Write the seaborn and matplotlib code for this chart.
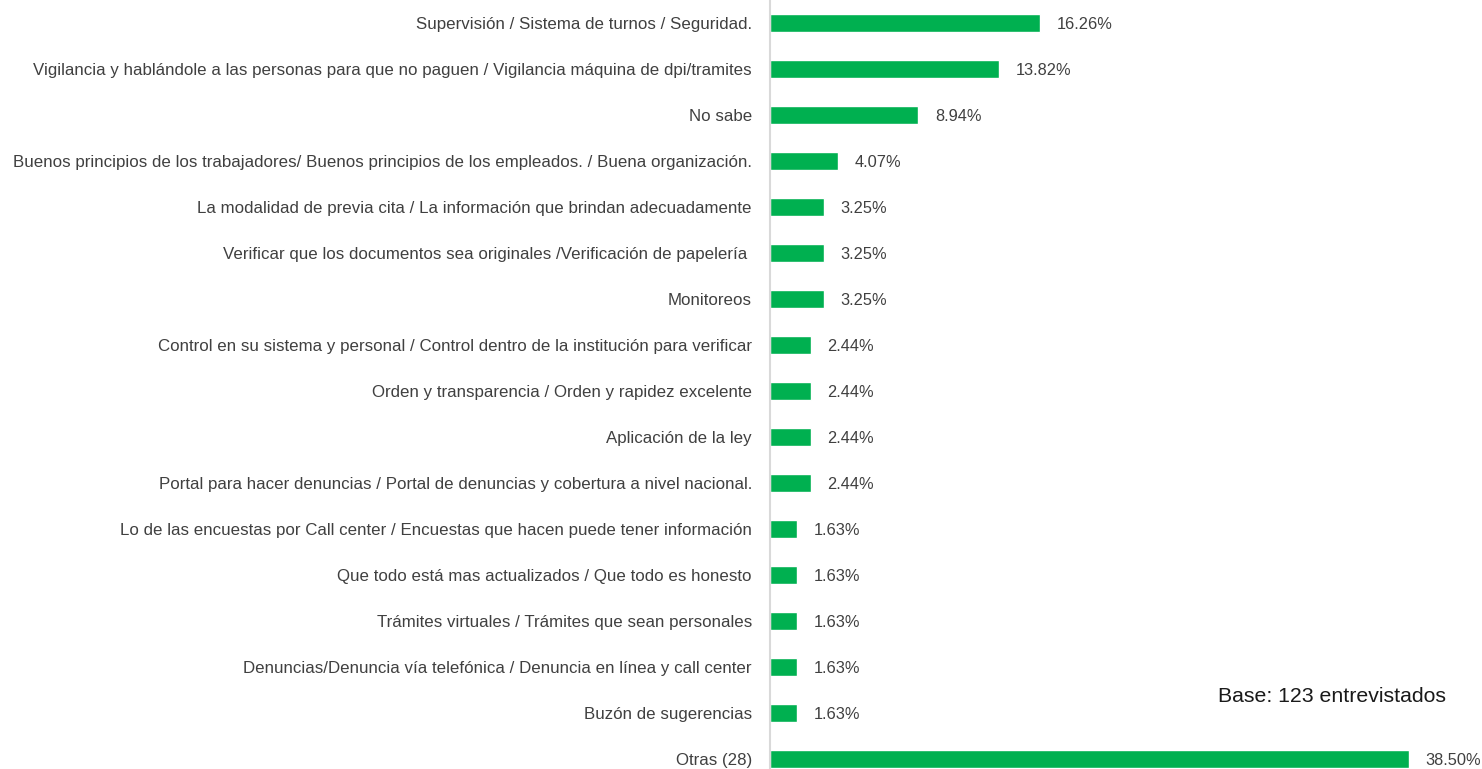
import pandas as pd
import matplotlib
matplotlib.use("Agg")
import matplotlib.pyplot as plt
import seaborn as sns

categorias = [
    "Supervisión / Sistema de turnos / Seguridad.",
    "Vigilancia y hablándole a las personas para que no paguen / Vigilancia máquina de dpi/tramites",
    "No sabe",
    "Buenos principios de los trabajadores/ Buenos principios de los empleados. / Buena organización.",
    "La modalidad de previa cita / La información que brindan adecuadamente",
    "Verificar que los documentos sea originales /Verificación de papelería ",
    "Monitoreos",
    "Control en su sistema y personal / Control dentro de la institución para verificar",
    "Orden y transparencia / Orden y rapidez excelente",
    "Aplicación de la ley",
    "Portal para hacer denuncias / Portal de denuncias y cobertura a nivel nacional.",
    "Lo de las encuestas por Call center / Encuestas que hacen puede tener información",
    "Que todo está mas actualizados / Que todo es honesto",
    "Trámites virtuales / Trámites que sean personales",
    "Denuncias/Denuncia vía telefónica / Denuncia en línea y call center",
    "Buzón de sugerencias",
    "Otras (28)",
]
porcentajes = [16.26, 13.82, 8.94, 4.07, 3.25, 3.25, 3.25, 2.44, 2.44, 2.44,
               2.44, 1.63, 1.63, 1.63, 1.63, 1.63, 38.50]

df = pd.DataFrame({"Categoria": categorias, "Porcentaje": porcentajes})

sns.set_style("white")
plt.rcParams['font.family'] = ['Liberation Sans', 'DejaVu Sans']

W, H = 1482, 769
fig = plt.figure(figsize=(W / 100, H / 100), dpi=100)
ax = fig.add_axes([770 / W, 0, (W - 770) / W, 1])

sns.barplot(data=df, x="Porcentaje", y="Categoria", orient="h", color="#00B050",
            saturation=1, width=0.39, ax=ax)

ax.set_xlim(0, (W - 770) / 16.6)
ax.set_ylim(16 + 10 / 46, -0.5)

# etiquetas de valor
for i, v in enumerate(porcentajes):
    ax.annotate(f"{v:.2f}%", (v, i), xytext=(12, -1), textcoords="offset points",
                ha="left", va="center", fontsize=11.8, color="#404040")

ax.set_xlabel("")
ax.set_ylabel("")
ax.set_xticks([])
ax.tick_params(axis="y", length=0, pad=13, labelsize=12.2, labelcolor="#404040")
for s in ["top", "right", "bottom"]:
    ax.spines[s].set_visible(False)
ax.spines["left"].set_color("#D9D9D9")
ax.spines["left"].set_linewidth(1.5)

fig.text(1218 / W, 1 - 697 / H, "Base: 123 entrevistados", fontsize=15.3,
         color="#1a1a1a", ha="left", va="center")

fig.savefig("out.png", dpi=100)
